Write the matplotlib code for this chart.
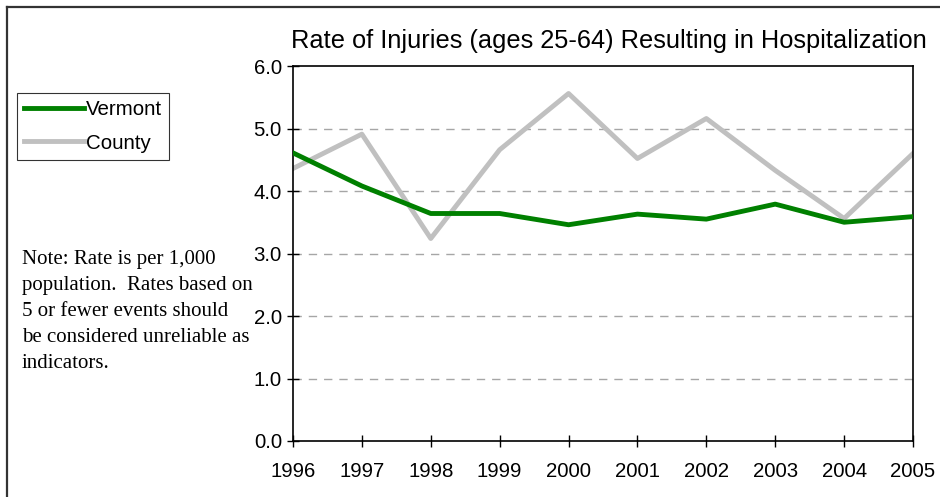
import matplotlib
matplotlib.use('Agg')
import matplotlib.pyplot as plt
from matplotlib.lines import Line2D

# Injury hospitalization rates per 1,000 population, ages 25-64
years = [1996, 1997, 1998, 1999, 2000, 2001, 2002, 2003, 2004, 2005]
vermont = [4.61, 4.08, 3.64, 3.64, 3.46, 3.63, 3.55, 3.79, 3.50, 3.59]
county = [4.36, 4.91, 3.24, 4.66, 5.56, 4.52, 5.16, 4.33, 3.56, 4.60]
y_ticks = [0.0, 1.0, 2.0, 3.0, 4.0, 5.0, 6.0]

title = 'Rate of Injuries (ages 25-64) Resulting in Hospitalization'
note = ('Note: Rate is per 1,000\n'
        'population.  Rates based on\n'
        '5 or fewer events should\n'
        'be considered unreliable as\n'
        'indicators.')

plt.rcParams['font.family'] = ['Liberation Sans', 'DejaVu Sans']

W, H = 940, 497
fig = plt.figure(figsize=(W / 100, H / 100), dpi=100)
ax = fig.add_axes([293 / W, 1 - 441 / H, (913 - 293) / W, (441 - 66) / H])

ax.plot(years, vermont, color='#008000', linewidth=3.5, label='Vermont', zorder=3)
ax.plot(years, county, color='#c0c0c0', linewidth=3.5, label='County', zorder=2)

ax.set_xlim(years[0], years[-1])
ax.set_ylim(0, 6)
ax.set_xticks(years)
ax.set_yticks(y_ticks)
ax.set_yticklabels([f'{v:.1f}' for v in y_ticks])
ax.tick_params(direction='inout', length=8, width=1, labelsize=14.7, colors='black')
ax.tick_params(axis='x', pad=11)
ax.tick_params(axis='y', pad=4)
for s in ax.spines.values():
    s.set_color('black')
    s.set_linewidth(1.2)

for v in y_ticks[1:-1]:
    ax.axhline(v, color='#a6a6a6', linewidth=1, dashes=(6, 5), zorder=1)

fig.text(609 / W, 1 - 41 / H, title, ha='center', va='center', fontsize=18.3)

leg = fig.legend(loc='upper left', bbox_to_anchor=(17 / W, 1 - 93 / H), fontsize=14.8,
                 frameon=True, fancybox=False, edgecolor='black', handlelength=2.9,
                 handletextpad=0.1, borderpad=0.35, labelspacing=0.7, borderaxespad=0)
leg.get_frame().set_linewidth(0.8)

fig.text(22 / W, 1 - 250 / H, note, ha='left', va='top', fontsize=15,
         family='Liberation Serif', linespacing=1.5)

# frame lines along the left and top edges
fig.add_artist(Line2D([7 / W, 7 / W], [0, 1 - 7 / H], color='#333333', linewidth=1.6,
                      transform=fig.transFigure))
fig.add_artist(Line2D([7 / W, 1], [1 - 7 / H, 1 - 7 / H], color='#333333', linewidth=1.6,
                      transform=fig.transFigure))

fig.savefig('out.png', dpi=100)
